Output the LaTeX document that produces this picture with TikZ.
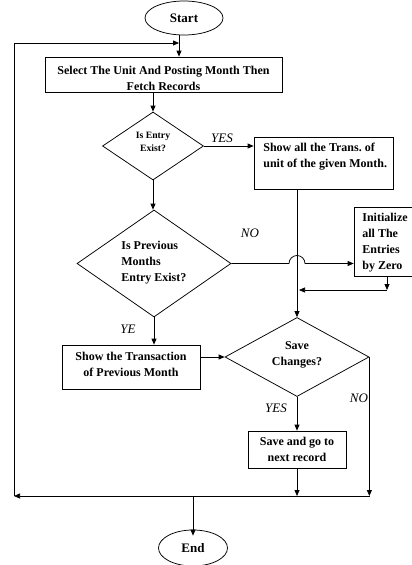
\documentclass[tikz,border=0pt]{standalone}
\usepackage{fontspec}
\setmainfont{Liberation Serif}
\usetikzlibrary{shapes.geometric,arrows.meta}
\begin{document}
\begin{tikzpicture}[x=1pt,y=-1pt, line width=0.75pt,
  >={Triangle[length=6pt,width=5pt]},
  box/.style={draw, rectangle, inner sep=0pt},
  dia/.style={draw, diamond, inner sep=0pt},
  oval/.style={draw, ellipse, inner sep=0pt},
  txt/.style={font=\bfseries\fontsize{12}{16}\selectfont, align=center, inner sep=0pt},
  smalltxt/.style={font=\bfseries\fontsize{9.7}{13}\selectfont, align=center, inner sep=0pt},
  lbl/.style={font=\itshape\fontsize{13}{14}\selectfont, inner sep=0pt}]
\useasboundingbox (0,0) rectangle (412,565);

% nodes
\node[oval, minimum width=78pt, minimum height=34pt, font=\bfseries\fontsize{13}{14}\selectfont] (start) at (184,18) {Start};
\node[box, minimum width=237pt, minimum height=35pt] (sel) at (163.5,74.5) {};
\begin{scope}
\clip (45,57) rectangle (282,92);
\node[txt] (seltxt) at (163.5,78) {Select The Unit And Posting Month Then\\Fetch Records};
\end{scope}
\node[dia, minimum width=101pt, minimum height=68pt] (d1) at (153,146) {};
\node[smalltxt] (d1txt) at (153,141.5) {Is Entry\\Exist?};
\node[box, minimum width=139pt, minimum height=52pt] (show) at (323.5,163) {};
\node[txt, align=left, anchor=west] (showtxt) at (263,156.5) {Show all the Trans.\ of\\unit of the given Month.};
\node[dia, minimum width=154pt, minimum height=107pt] (d2) at (154,263.5) {};
\node[txt, align=left, anchor=west] (d2txt) at (121,263) {Is Previous\\Months\\Entry Exist?};
\node[box, minimum width=58pt, minimum height=69pt] (init) at (383,241.5) {};
\node[txt, align=left, anchor=west] (inittxt) at (362,243) {Initialize\\all The\\Entries\\by Zero};
\node[box, minimum width=138pt, minimum height=44pt] (st) at (131,367) {};
\node[txt] (sttxt) at (131,364.5) {Show the Transaction\\of Previous Month};
\node[dia, minimum width=144pt, minimum height=79pt] (d3) at (297,357) {};
\node[txt] (d3txt) at (297,355) {Save\\Changes?};
\node[box, minimum width=98pt, minimum height=37pt] (sv) at (297,449.5) {};
\node[txt] (svtxt) at (297,449) {Save and go to\\next record};
\node[oval, minimum width=69pt, minimum height=36pt, font=\bfseries\fontsize{13}{14}\selectfont] (end) at (193,548) {End};

% labels
\node[lbl] (yes1) at (222,138) {YES};
\node[lbl] (no1) at (250,233) {NO};
\node[lbl] (ye2) at (128,329) {YE};
\node[lbl] (yes3) at (276,408) {YES};
\node[lbl] (no3) at (359,398) {NO};

% helper coordinates
\coordinate (lt) at (179,43);
\coordinate (ll) at (14,43);
\coordinate (j1) at (297,290);
\coordinate (j2) at (387,290);
\coordinate (bot) at (370,496);
\coordinate (botl) at (14,496);

% connectors
\draw[->] (lt |- start.south) -- (lt |- sel.north);
\draw[->] (sel.south -| d1.north) -- (d1.north);
\draw[->] (d1.east) -- (d1.east -| show.west);
\draw[->] (d1.south) -- (d1.south |- d2.north);
\draw (show.south -| j1) -- (j1);
\draw[->] (j1) -- (d3.north);
\draw[->] (d2.east) -- (289,263.5) arc[start angle=180, end angle=360, radius=8] -- (init.west |- d2.east);
\draw[->] (init.south -| j2) -- (j2);
\draw[->, shorten >=2pt] (j2) -- (j1);
\draw[->] (d2.south) -- (d2.south |- st.north);
\draw[->] (st.east |- d3.west) -- (d3.west);
\draw[->] (d3.south) -- (sv.north);
\draw[->] (d3.east) -- (d3.east |- bot);
\draw[->] (sv.south) -- (sv.south |- bot);
\draw[->] (bot) -- (botl);
\draw[->] (botl) -- (ll) -- (lt);
\draw[->] (end.north |- bot) -- ([yshift=-6pt]end.north);
\end{tikzpicture}
\end{document}
